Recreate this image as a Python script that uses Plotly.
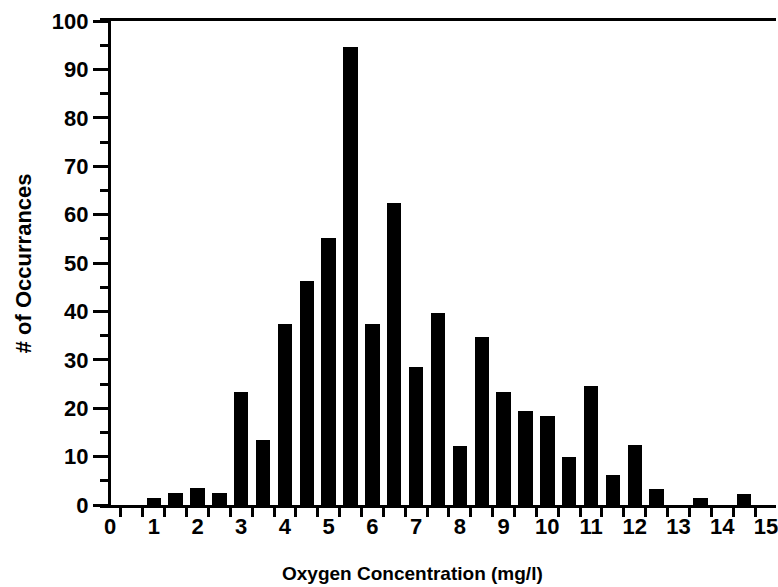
import plotly.graph_objects as go

# Data
oxygen_bins = [1.0, 1.5, 2.0, 2.5, 3.0, 3.5, 4.0, 4.5, 5.0, 5.5, 6.0, 6.5, 7.0, 7.5,
               8.0, 8.5, 9.0, 9.5, 10.0, 10.5, 11.0, 11.5, 12.0, 12.5, 13.0, 13.5, 14.0, 14.5]
occurrences = [1.4, 2.4, 3.5, 2.4, 23.4, 13.4, 37.4, 46.3, 55.2, 94.7, 37.3, 62.4, 28.6, 39.6,
               12.2, 34.7, 23.4, 19.5, 18.4, 10.0, 24.6, 6.2, 12.3, 3.4, 0, 1.4, 0, 2.3]
x_tick_vals = list(range(0, 16))
y_tick_vals = list(range(0, 101, 10))

FONT = "Liberation Sans Narrow, Arial Narrow, Liberation Sans, Arial, sans-serif"

fig = go.Figure()
fig.add_trace(go.Bar(
    x=oxygen_bins, y=occurrences, width=0.33,
    marker=dict(color="black", line=dict(width=0)),
))

fig.update_layout(
    width=778, height=587,
    margin=dict(l=100, r=0, t=21, b=82),
    paper_bgcolor="white", plot_bgcolor="white",
    showlegend=False,
    font=dict(family=FONT, color="black"),
    bargap=0,
    xaxis=dict(
        range=[-0.23, 15.23], showgrid=False, zeroline=False,
        showline=True, linecolor="black", linewidth=3, mirror=True,
        tickmode="array", tickvals=x_tick_vals, ticks="",
        ticklabeloverflow="allow",
        tickfont=dict(family=FONT, size=22, color="black", weight="bold"),
        minor=dict(tick0=-0.25, dtick=0.5, ticks="outside", ticklen=9,
                   tickwidth=3, tickcolor="black", showgrid=False),
    ),
    yaxis=dict(
        range=[0, 100], showgrid=False, zeroline=False,
        anchor="free", position=0.013,
        showline=True, linecolor="black", linewidth=3,
        tickmode="array", tickvals=y_tick_vals, ticks="outside",
        ticklen=15, tickwidth=2.5, tickcolor="black",
        tickfont=dict(family=FONT, size=22, color="black", weight="bold"),
        minor=dict(dtick=5, tick0=0, ticks="outside", ticklen=8,
                   tickwidth=2.5, tickcolor="black", showgrid=False),
    ),
    annotations=[
        dict(text="<b>Oxygen Concentration (mg/l)</b>", xref="paper", yref="paper",
             x=(413 - 100) / 678, y=-(573 - 505) / 484, xanchor="center", yanchor="middle",
             showarrow=False, font=dict(family=FONT, size=19, color="black")),
        dict(text="<b># of Occurrances</b>", xref="paper", yref="paper",
             x=-(100 - 23) / 678, y=(505 - 263) / 484, xanchor="center", yanchor="middle",
             textangle=-90, showarrow=False, font=dict(family=FONT, size=22, color="black")),
    ],
)

fig.write_html("out.html")
